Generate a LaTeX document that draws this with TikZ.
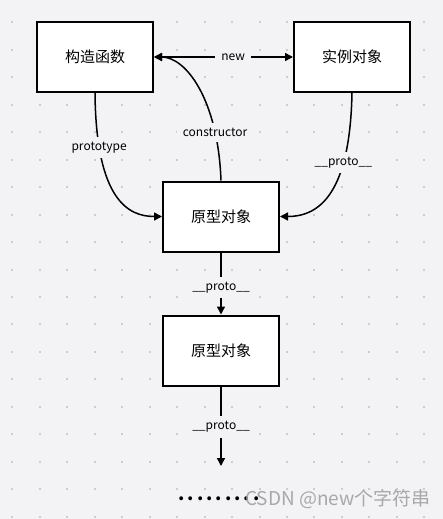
\documentclass[tikz,border=0pt]{standalone}
\usepackage{fontspec}
\setmainfont{Noto Sans CJK SC}
\usetikzlibrary{arrows.meta}
\definecolor{bgc}{RGB}{243,243,245}
\definecolor{dotc}{RGB}{205,205,209}
\definecolor{wmc}{RGB}{160,160,164}
\tikzset{
  objbox/.style={draw=black, fill=white, line width=2pt, minimum width=116pt, minimum height=70pt, inner sep=0pt, font=\fontsize{15pt}{18pt}\selectfont},
  conn/.style={line width=1.5pt, -{Triangle[length=8pt,width=8pt]}},
  lbl/.style={fill=bgc, inner xsep=6pt, inner ysep=5pt, font=\fontsize{12pt}{14pt}\selectfont, text=black}
}
\begin{document}
\begin{tikzpicture}[x=1pt,y=-1pt]
\fill[bgc] (0,0) rectangle (443,519);
\useasboundingbox (0,0) rectangle (443,519);
\foreach \i in {0,...,15}{
  \foreach \j in {0,...,18}{
    \fill[dotc] ({12.3+27.47*\i-1},{22.3+27.47*\j-1}) rectangle ++(2,2);
  }
}
\node[objbox] (ctor) at (95,57) {构造函数};
\node[objbox] (inst) at (352,57) {实例对象};
\node[objbox] (p1) at (221,216.5) {原型对象};
\node[objbox] (p2) at (221,350.5) {原型对象};
\coordinate (end) at (221,466);

\draw[conn, {Triangle[length=8pt,width=8pt]}-{Triangle[length=8pt,width=8pt]}] (ctor.east) -- node[lbl, pos=0.57] {new} (inst.west);
\draw[conn] (ctor.south) .. controls +(1,108) and +(-33,0) .. node[lbl, pos=0.2] {prototype} (p1.west);
\draw[conn] (p1.north) .. controls +(-3,-81) and +(32,0) .. node[lbl, pos=0.22] {constructor} (ctor.east);
\draw[conn] (inst.south) .. controls +(-2,98) and +(41,0) .. node[lbl, pos=0.3] {\_\_proto\_\_} (p1.east);
\draw[conn] (p1.south) -- node[lbl, pos=0.57] {\_\_proto\_\_} (p2.north);
\draw[conn] (p2.south) -- node[lbl, pos=0.51] {\_\_proto\_\_} (end);

\node[font=\fontsize{18pt}{20pt}\selectfont\bfseries, inner sep=0pt] (dots) at (219,499) {.\hspace{3pt}.\hspace{3pt}.\hspace{3pt}.\hspace{3pt}.\hspace{3pt}.\hspace{3pt}.\hspace{3pt}.\hspace{3pt}.};
\node[font=\fontsize{19pt}{21pt}\selectfont, text=wmc, text opacity=0.9, inner sep=0pt] (wm) at (338,499) {CSDN @new个字符串};
\end{tikzpicture}
\end{document}
